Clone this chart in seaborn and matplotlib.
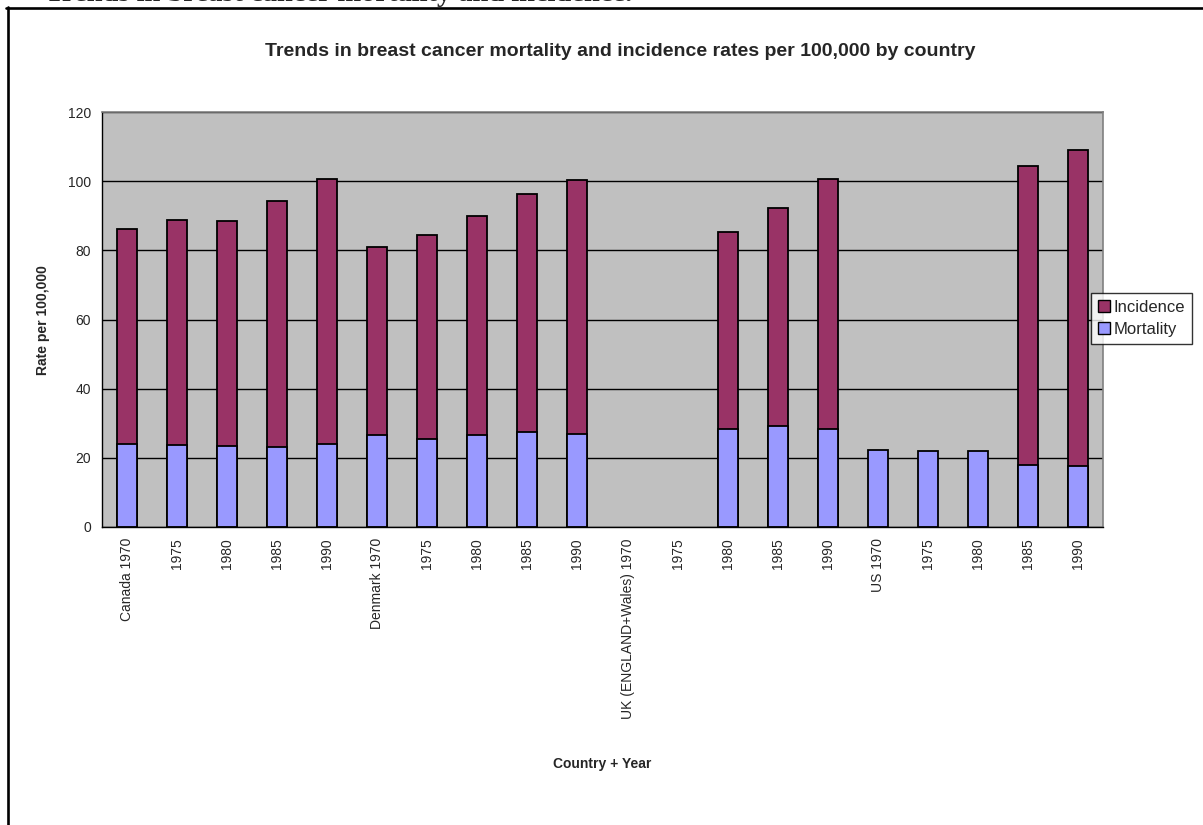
import numpy as np
import pandas as pd
import matplotlib
matplotlib.use("Agg")
import matplotlib.pyplot as plt
from matplotlib.lines import Line2D
from matplotlib.patches import Patch
import seaborn as sns

# Category axis: country + year
countries = ["Canada"] * 5 + ["Denmark"] * 5 + ["UK (ENGLAND+Wales)"] * 5 + ["US"] * 5
years = [1970, 1975, 1980, 1985, 1990] * 4
tick_labels = ["Canada 1970", "1975", "1980", "1985", "1990",
               "Denmark 1970", "1975", "1980", "1985", "1990",
               "UK (ENGLAND+Wales) 1970", "1975", "1980", "1985", "1990",
               "US 1970", "1975", "1980", "1985", "1990"]

# Rates per 100,000 (stacked: incidence segment sits on top of mortality)
mortality = [23.9, 23.6, 23.3, 23.0, 23.9,
             26.6, 25.4, 26.5, 27.5, 27.0,
             np.nan, np.nan, 28.2, 29.3, 28.2,
             22.4, 21.9, 22.1, 18.0, 17.7]
incidence = [62.4, 65.2, 65.3, 71.3, 76.8,
             54.3, 58.9, 63.3, 68.7, 73.3,
             np.nan, np.nan, 57.1, 62.8, 72.4,
             np.nan, np.nan, np.nan, 86.3, 91.2]

INC_COLOR = "#993366"
MORT_COLOR = "#9999FF"
PLOT_BG = "#C0C0C0"

df = pd.DataFrame({
    "key": [f"{c} {y}" for c, y in zip(countries, years)],
    "Mortality": mortality,
    "Incidence": incidence,
})
df["Top"] = df["Mortality"] + df["Incidence"]

sns.set_theme(style="white")
plt.rcParams["font.family"] = ["Liberation Sans", "DejaVu Sans"]

W, H = 1203, 825
fig = plt.figure(figsize=(W / 100, H / 100), dpi=100)
ax = fig.add_axes([102 / W, 1 - 527 / H, (1103 - 102) / W, (527 - 112) / H])
ax.set_facecolor(PLOT_BG)

order = list(df["key"])
bar_kw = dict(width=0.4, edgecolor="black", linewidth=1.3, saturation=1, ax=ax, order=order)
sns.barplot(data=df, x="key", y="Top", color=INC_COLOR, **bar_kw)
sns.barplot(data=df, x="key", y="Mortality", color=MORT_COLOR, **bar_kw)

ax.set_ylim(0, 120)
ax.set_xlim(-0.5, len(order) - 0.5)
ax.set_yticks(np.arange(0, 121, 20))
ax.yaxis.grid(True, color="black", linewidth=1.0)
ax.set_axisbelow(True)

ax.set_xticks(range(len(order)))
ax.set_xticklabels(tick_labels, rotation=90, fontsize=10, va="top", ha="center")
ax.set_xticks(np.arange(-0.5, len(order)), minor=True)
ax.tick_params(axis="x", which="major", length=0, pad=8)
ax.tick_params(axis="x", which="minor", length=5, width=1, color="black", direction="out")
ax.tick_params(axis="y", length=5, width=1, color="black", direction="out", labelsize=10, pad=3)

for side in ("top", "right"):
    ax.spines[side].set_color("#808080")
    ax.spines[side].set_linewidth(1.2)
for side in ("left", "bottom"):
    ax.spines[side].set_color("black")
    ax.spines[side].set_linewidth(1.0)

ax.set_xlabel("")
ax.set_ylabel("")
fig.text(43 / W, 1 - 320 / H, "Rate per 100,000", rotation=90, fontsize=10,
         fontweight="bold", ha="center", va="center")
fig.text(602 / W, 1 - 764 / H, "Country + Year", fontsize=10,
         fontweight="bold", ha="center", va="center")
fig.text(620 / W, 1 - 52 / H,
         "Trends in breast cancer mortality and incidence rates per 100,000 by country",
         fontsize=14, fontweight="bold", ha="center", va="center")

# Legend: incidence listed above mortality
handles = [Patch(facecolor=INC_COLOR, edgecolor="black", linewidth=1.0, label="Incidence"),
           Patch(facecolor=MORT_COLOR, edgecolor="black", linewidth=1.0, label="Mortality")]
leg = fig.legend(handles=handles, loc="upper left", bbox_to_anchor=(1091 / W, 1 - 293 / H),
                 fontsize=12, frameon=True, fancybox=False, borderaxespad=0,
                 handlelength=0.75, handleheight=0.75, handletextpad=0.2,
                 borderpad=0.4, labelspacing=0.45)
leg.get_frame().set_edgecolor("black")
leg.get_frame().set_linewidth(1.0)

# Chart frame (top and left edges inside the page)
fig.add_artist(Line2D([6 / W, 1.0], [1 - 7.5 / H, 1 - 7.5 / H], color="black",
                      linewidth=1.9, transform=fig.transFigure))
fig.add_artist(Line2D([7.5 / W, 7.5 / W], [0.0, 1 - 6.5 / H], color="black",
                      linewidth=1.9, transform=fig.transFigure))

# Document heading running off the top edge
fig.text(45 / W, 1 - 1.0 / H, "Trends in breast cancer mortality and incidence.",
         fontsize=20.5, fontweight="bold", family=["Liberation Serif", "DejaVu Serif"],
         ha="left", va="baseline")

fig.savefig("out.png", dpi=100, facecolor="white")
